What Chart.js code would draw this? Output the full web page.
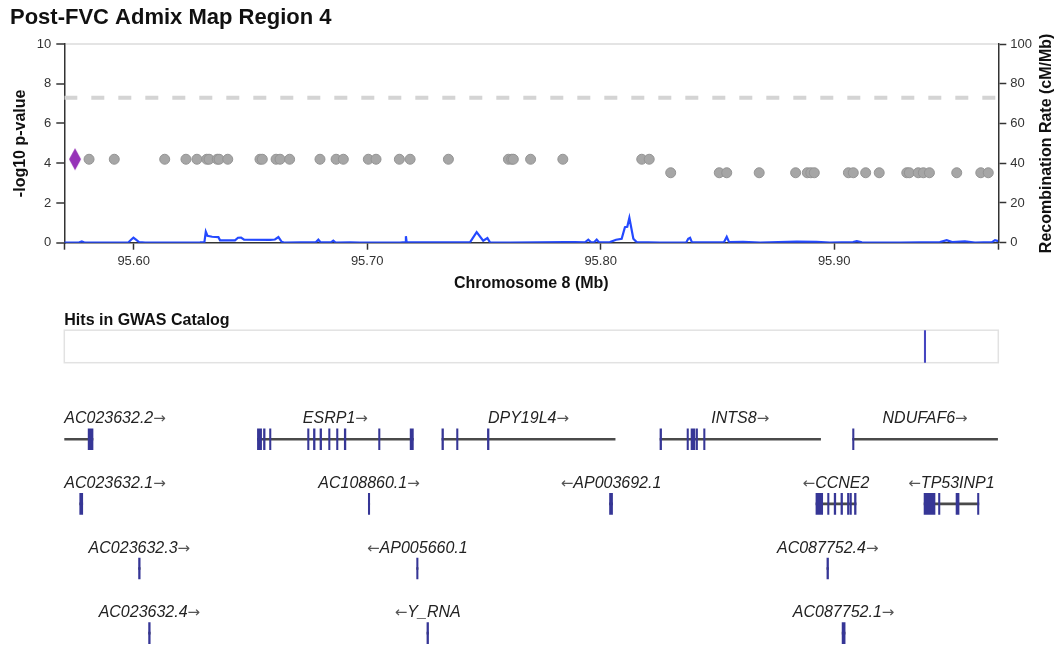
<!DOCTYPE html>
<html>
<head>
<meta charset="utf-8">
<title>Post-FVC Admix Map Region 4</title>
<script src="https://cdn.jsdelivr.net/npm/chart.js@4.4.1/dist/chart.umd.min.js"></script>
<style>
  body { margin: 0; background: #fff; }
  canvas { display: block; }
</style>
</head>
<body>
<canvas id="assoc" width="1056" height="300"></canvas>
<canvas id="gwas" width="1056" height="70"></canvas>
<canvas id="genes" width="1056" height="293"></canvas>
<script>
// Region shown (Mb) and x tick labels
const xMin = 95.5703;
const xMax = 95.9703;
const xTickValues = [95.6, 95.7, 95.8, 95.9];

// Association results (-log10 p)
const snpPos = [95.5809, 95.5917, 95.6133, 95.6224, 95.6271, 95.6313, 95.6323, 95.6358, 95.6366, 95.6403,
  95.6541, 95.6551, 95.6610, 95.6627, 95.6668, 95.6798, 95.6867, 95.6898, 95.7005, 95.7038,
  95.7138, 95.7184, 95.7348, 95.7605, 95.7619, 95.7626, 95.7700, 95.7838, 95.8176, 95.8208,
  95.8300, 95.8508, 95.8540, 95.8679, 95.8835, 95.8885, 95.8900, 95.8915, 95.9061, 95.9082,
  95.9135, 95.9193, 95.9311, 95.9322, 95.9360, 95.9382, 95.9408, 95.9525, 95.9628, 95.9660];
const snpLogP = [4.20, 4.20, 4.20, 4.20, 4.20, 4.20, 4.20, 4.20, 4.20, 4.20,
  4.20, 4.20, 4.20, 4.20, 4.20, 4.20, 4.20, 4.20, 4.20, 4.20,
  4.20, 4.20, 4.20, 4.20, 4.20, 4.20, 4.20, 4.20, 4.20, 4.20,
  3.52, 3.52, 3.52, 3.52, 3.52, 3.52, 3.52, 3.52, 3.52, 3.52,
  3.52, 3.52, 3.52, 3.52, 3.52, 3.52, 3.52, 3.52, 3.52, 3.52];
const leadPos = [95.5749];
const leadLogP = [4.20];
const sigThreshold = 7.3;

// Recombination rate (cM/Mb)
const recombPos = [95.5703, 95.5762, 95.5778, 95.5792, 95.5976, 95.5989, 95.5999, 95.6010, 95.6023, 95.6049,
  95.6284, 95.6303, 95.6309, 95.6316, 95.6336, 95.6363, 95.6370, 95.6434, 95.6447, 95.6460,
  95.6473, 95.6584, 95.6605, 95.6620, 95.6634, 95.6648, 95.6781, 95.6791, 95.6800, 95.6845,
  95.6855, 95.6865, 95.6927, 95.6969, 95.7141, 95.7164, 95.7166, 95.7169, 95.7312, 95.7441,
  95.7469, 95.7497, 95.7515, 95.7526, 95.7612, 95.7847, 95.7890, 95.7933, 95.7947, 95.7959,
  95.7972, 95.7983, 95.7993, 95.8040, 95.8066, 95.8090, 95.8104, 95.8114, 95.8123, 95.8140,
  95.8154, 95.8254, 95.8366, 95.8375, 95.8383, 95.8391, 95.8528, 95.8540, 95.8550, 95.8610,
  95.8683, 95.8840, 95.8925, 95.8982, 95.9081, 95.9097, 95.9119, 95.9282, 95.9453, 95.9482,
  95.9505, 95.9560, 95.9603, 95.9676, 95.9689, 95.9703];
const recombRate = [0, 0, 0.6, 0, 0, 1.5, 2.5, 1.5, 0.3, 0,
  0.2, 0.3, 5.5, 3.5, 3.0, 2.8, 1.2, 1.2, 2.5, 2.6,
  1.5, 1.4, 1.6, 2.8, 0.4, 0, 0.3, 1.5, 0.2, 0.2,
  1.0, 0.1, 0.2, 0, 0, 0.3, 3.3, 0.3, 0.2, 0.3,
  5.3, 1.0, 2.3, 0.2, 0, 0.3, 0.3, 0.2, 1.5, 0.2,
  0.2, 1.5, 0.2, 0.3, 1.5, 2.0, 7.8, 8.0, 12.5, 2.0,
  0.3, 0, 0, 2.0, 2.5, 0.2, 0.2, 3.0, 0.3, 0.4,
  0, 0.5, 0.4, 0.1, 0.3, 0.8, 0.2, 0.1, 0.3, 1.3,
  0.3, 0.7, 0.1, 0.3, 1.3, 0.8];

// GWAS catalog hits (Mb)
const gwasHits = [95.9389];

// Genes
const geneNames = ['AC023632.2', 'ESRP1', 'DPY19L4', 'INTS8', 'NDUFAF6',
  'AC023632.1', 'AC108860.1', 'AP003692.1', 'CCNE2', 'TP53INP1',
  'AC023632.3', 'AP005660.1', 'AC087752.4',
  'AC023632.4', 'Y_RNA', 'AC087752.1'];
const geneStrand = ['+', '+', '+', '+', '+', '+', '+', '-', '-', '-', '+', '-', '+', '+', '-', '+'];
const geneRow = [0, 0, 0, 0, 0, 1, 1, 1, 1, 1, 2, 2, 2, 3, 3, 3];
const geneStart = [95.5650, 95.6530, 95.7320, 95.8254, 95.9079, 95.5769, 95.7005, 95.8038, 95.8922, 95.9385,
  95.6021, 95.7212, 95.8969, 95.6064, 95.7256, 95.9034];
const geneEnd = [95.5826, 95.7198, 95.8062, 95.8942, 95.9700, 95.5782, 95.7011, 95.8051, 95.9094, 95.9620,
  95.6028, 95.7218, 95.8976, 95.6071, 95.7263, 95.9047];
const geneExons = [
  [[95.5805, 95.5826]],
  [[95.6530, 95.6548], [95.6556, 95.6563], [95.6582, 95.6588], [95.6745, 95.6751], [95.6770, 95.6777],
   [95.6798, 95.6805], [95.6835, 95.6841], [95.6869, 95.6875], [95.6902, 95.6909], [95.7049, 95.7055],
   [95.7184, 95.7198]],
  [[95.7320, 95.7327], [95.7383, 95.7389], [95.7515, 95.7522]],
  [[95.8254, 95.8261], [95.8370, 95.8376], [95.8387, 95.8403], [95.8408, 95.8415], [95.8441, 95.8447]],
  [[95.9079, 95.9085]],
  [[95.5769, 95.5782]],
  [[95.7005, 95.7011]],
  [[95.8038, 95.8051]],
  [[95.8922, 95.8951], [95.8972, 95.8978], [95.9000, 95.9007], [95.9029, 95.9036], [95.9057, 95.9064],
   [95.9068, 95.9074], [95.9087, 95.9094]],
  [[95.9385, 95.9432], [95.9447, 95.9453], [95.9522, 95.9535], [95.9614, 95.9620]],
  [[95.6021, 95.6028]],
  [[95.7212, 95.7218]],
  [[95.8969, 95.8976]],
  [[95.6064, 95.6071]],
  [[95.7256, 95.7263]],
  [[95.9034, 95.9047]]
];

Chart.defaults.font.family = '"Liberation Sans", Arial, sans-serif';
Chart.defaults.color = '#333';

// Tall purple diamond for the lead variant
const diamond = document.createElement('canvas');
diamond.width = 14;
diamond.height = 24;
(function() {
  const c = diamond.getContext('2d');
  c.fillStyle = '#9632b8';
  c.beginPath();
  c.moveTo(7, 1);
  c.lineTo(13, 12);
  c.lineTo(7, 23);
  c.lineTo(1, 12);
  c.closePath();
  c.fill();
})();

// Right axis title reads bottom-to-top like the left one
const rightTitle = {
  id: 'rightTitle',
  afterDraw(chart) {
    const {ctx, chartArea} = chart;
    const s = chart.scales.yR;
    ctx.save();
    ctx.translate(s.right - 9, (chartArea.top + chartArea.bottom) / 2);
    ctx.rotate(-Math.PI / 2);
    ctx.font = 'bold 16px "Liberation Sans", Arial, sans-serif';
    ctx.fillStyle = '#111';
    ctx.textAlign = 'center';
    ctx.textBaseline = 'middle';
    ctx.fillText('Recombination Rate (cM/Mb)', 0, 0);
    ctx.restore();
  }
};

new Chart(document.getElementById('assoc'), {
  type: 'scatter',
  data: {
    datasets: [
      {
        label: 'lead',
        data: leadPos.map((x, i) => ({x: x, y: leadLogP[i]})),
        pointStyle: diamond,
        order: 0
      },
      {
        label: 'variants',
        data: snpPos.map((x, i) => ({x: x, y: snpLogP[i]})),
        backgroundColor: '#a6a6a6',
        borderColor: '#949494',
        borderWidth: 1,
        pointRadius: 5,
        order: 1
      },
      {
        type: 'line',
        label: 'recomb',
        data: recombPos.map((x, i) => ({x: x, y: recombRate[i]})),
        yAxisID: 'yR',
        borderColor: '#2449ff',
        borderWidth: 2.2,
        pointRadius: 0,
        tension: 0,
        order: 2
      },
      {
        type: 'line',
        label: 'threshold',
        data: [{x: xMin, y: sigThreshold}, {x: xMax, y: sigThreshold}],
        borderColor: '#d4d4d4',
        borderWidth: 4,
        borderDash: [13, 14],
        pointRadius: 0,
        order: 3
      }
    ]
  },
  options: {
    responsive: false,
    animation: false,
    devicePixelRatio: 1,
    layout: { padding: { left: 10, right: 0, top: 0, bottom: 7.3 } },
    scales: {
      x: {
        type: 'linear',
        min: xMin,
        max: xMax,
        afterFit: s => { s.height = 50; },
        afterBuildTicks: s => { s.ticks = [xMin, ...xTickValues, xMax].map(v => ({value: v})); },
        ticks: {
          autoSkip: false,
          maxRotation: 0,
          padding: 4,
          font: { size: 13 },
          color: '#333',
          callback: v => xTickValues.includes(v) ? v.toFixed(2) : ''
        },
        grid: { drawOnChartArea: false, tickLength: 7, tickColor: '#333', tickWidth: 1.5 },
        border: { color: '#333', width: 1.5 },
        title: {
          display: true,
          text: 'Chromosome 8 (Mb)',
          font: { size: 16, weight: 'bold' },
          color: '#111',
          padding: { top: 0, bottom: 0 }
        }
      },
      y: {
        position: 'left',
        min: 0,
        max: 10,
        afterFit: s => { s.width = 54.3; },
        ticks: { stepSize: 2, padding: 5, font: { size: 13 }, color: '#333' },
        grid: {
          color: c => (c.tick && c.tick.value === 10) ? '#e4e4e4' : 'rgba(0,0,0,0)',
          lineWidth: 2,
          tickColor: '#333',
          tickLength: 8,
          tickWidth: 1.5
        },
        border: { color: '#333', width: 1.5 },
        title: {
          display: true,
          text: '-log10 p-value',
          font: { size: 16, weight: 'bold' },
          color: '#111',
          padding: { top: 1, bottom: 0 }
        }
      },
      yR: {
        position: 'right',
        min: 0,
        max: 100,
        afterFit: s => { s.width = 57.7; },
        ticks: { stepSize: 20, padding: 4, font: { size: 13 }, color: '#333' },
        grid: { drawOnChartArea: false, tickColor: '#333', tickLength: 8, tickWidth: 1.5 },
        border: { color: '#333', width: 1.5 }
      }
    },
    plugins: {
      legend: { display: false },
      tooltip: { enabled: false },
      title: {
        display: true,
        text: 'Post-FVC Admix Map Region 4',
        align: 'start',
        color: '#111',
        font: { size: 22, weight: 'bold' },
        padding: { top: 5, bottom: 12.6 }
      }
    }
  },
  plugins: [rightTitle]
});

// Light frame around the GWAS catalog track
const panelBox = {
  id: 'panelBox',
  beforeDatasetsDraw(chart) {
    const {ctx, chartArea} = chart;
    ctx.save();
    ctx.strokeStyle = '#e2e2e2';
    ctx.lineWidth = 1.5;
    ctx.strokeRect(chartArea.left, chartArea.top, chartArea.right - chartArea.left, chartArea.bottom - chartArea.top);
    ctx.restore();
  }
};

new Chart(document.getElementById('gwas'), {
  type: 'bar',
  data: {
    labels: ['hits'],
    datasets: gwasHits.map(h => ({
      data: [[h - 0.0003, h + 0.0003]],
      backgroundColor: '#4646c0',
      grouped: false,
      categoryPercentage: 1,
      barPercentage: 1
    }))
  },
  options: {
    indexAxis: 'y',
    responsive: false,
    animation: false,
    devicePixelRatio: 1,
    layout: { padding: { left: 64.3, right: 57.7, top: 0, bottom: 7.3 } },
    scales: {
      x: { type: 'linear', min: xMin, max: xMax, display: false },
      y: { display: false }
    },
    plugins: {
      legend: { display: false },
      tooltip: { enabled: false },
      title: {
        display: true,
        text: 'Hits in GWAS Catalog',
        align: 'start',
        color: '#111',
        font: { size: 16, weight: 'bold' },
        padding: { top: 11, bottom: 0 }
      }
    }
  },
  plugins: [panelBox]
});

// Gene names with strand arrows, kept inside the panel
const nameFont = 'italic 16px "Liberation Sans", Arial, sans-serif';
const arrowFont = '15px "DejaVu Sans", sans-serif';
const geneLabels = {
  id: 'geneLabels',
  afterDatasetsDraw(chart) {
    const {ctx, chartArea} = chart;
    const x = chart.scales.x, y = chart.scales.y;
    ctx.save();
    ctx.textAlign = 'left';
    ctx.textBaseline = 'alphabetic';
    geneNames.forEach((name, i) => {
      ctx.font = nameFont;
      const nameW = ctx.measureText(name).width;
      ctx.font = arrowFont;
      const arrow = geneStrand[i] === '+' ? '\u2192' : '\u2190';
      const arrowW = ctx.measureText(arrow).width;
      const w = nameW + arrowW;
      const s = Math.max(geneStart[i], xMin);
      const e = Math.min(geneEnd[i], xMax);
      const cx = x.getPixelForValue((s + e) / 2);
      const left = Math.min(Math.max(cx - w / 2, chartArea.left), chartArea.right - w);
      const base = y.getPixelForValue(geneRow[i]) - 16;
      const nameX = geneStrand[i] === '+' ? left : left + arrowW;
      const arrowX = geneStrand[i] === '+' ? left + nameW : left;
      ctx.font = nameFont;
      ctx.fillStyle = '#222';
      ctx.fillText(name, nameX, base);
      ctx.font = arrowFont;
      ctx.fillStyle = '#555';
      ctx.fillText(arrow, arrowX, base);
    });
    ctx.restore();
  }
};

const intronData = geneNames.map((n, i) => ({x: [geneStart[i], geneEnd[i]], y: geneRow[i]}));
const exonData = [];
geneExons.forEach((list, i) => {
  list.forEach(ex => exonData.push({x: [ex[0], ex[1]], y: geneRow[i]}));
});

new Chart(document.getElementById('genes'), {
  type: 'bar',
  data: {
    datasets: [
      { label: 'exons', data: exonData, backgroundColor: '#363696', barThickness: 21, grouped: false, order: 0 },
      { label: 'introns', data: intronData, backgroundColor: '#4a4a4a', barThickness: 2, grouped: false, order: 1 }
    ]
  },
  options: {
    indexAxis: 'y',
    responsive: false,
    animation: false,
    devicePixelRatio: 1,
    layout: { padding: { left: 64.3, right: 57.7, top: 0, bottom: 0 } },
    scales: {
      x: { type: 'linear', min: xMin, max: xMax, display: false },
      y: { type: 'linear', min: -0.8454, max: 3.2354, reverse: true, display: false }
    },
    plugins: {
      legend: { display: false },
      tooltip: { enabled: false }
    }
  },
  plugins: [geneLabels]
});
</script>
</body>
</html>
